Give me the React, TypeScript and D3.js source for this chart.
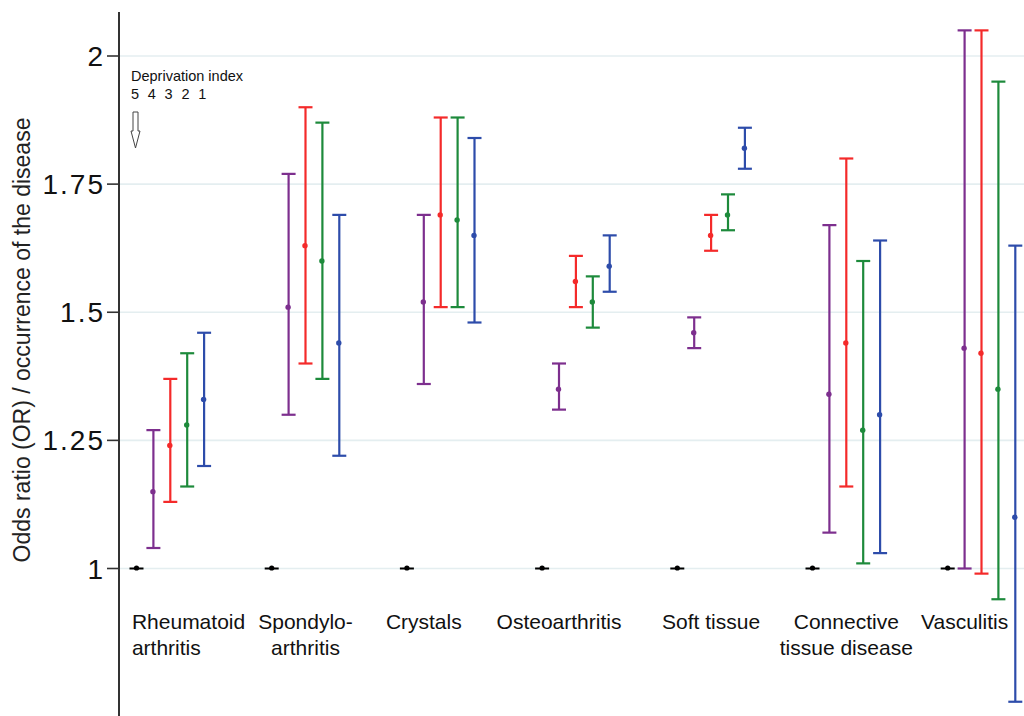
import React from 'react';
import * as d3 from 'd3';

// disease groups, label lines as printed under the axis
const categoryLines: string[][] = [
  ['Rheumatoid', 'arthritis'],
  ['Spondylo-', 'arthritis'],
  ['Crystals'],
  ['Osteoarthritis'],
  ['Soft tissue'],
  ['Connective', 'tissue disease'],
  ['Vasculitis'],
];

// deprivation quintiles drawn as error bars (1 = reference, OR = 1)
const quintiles = ['5', '4', '3', '2'];
const quintileLegend = ['5', '4', '3', '2', '1'];

const orQ5 = [1.15, 1.51, 1.52, 1.35, 1.46, 1.34, 1.43];
const lowQ5 = [1.04, 1.30, 1.36, 1.31, 1.43, 1.07, 1.00];
const highQ5 = [1.27, 1.77, 1.69, 1.40, 1.49, 1.67, 2.05];

const orQ4 = [1.24, 1.63, 1.69, 1.56, 1.65, 1.44, 1.42];
const lowQ4 = [1.13, 1.40, 1.51, 1.51, 1.62, 1.16, 0.99];
const highQ4 = [1.37, 1.90, 1.88, 1.61, 1.69, 1.80, 2.05];

const orQ3 = [1.28, 1.60, 1.68, 1.52, 1.69, 1.27, 1.35];
const lowQ3 = [1.16, 1.37, 1.51, 1.47, 1.66, 1.01, 0.94];
const highQ3 = [1.42, 1.87, 1.88, 1.57, 1.73, 1.60, 1.95];

const orQ2 = [1.33, 1.44, 1.65, 1.59, 1.82, 1.30, 1.10];
const lowQ2 = [1.20, 1.22, 1.48, 1.54, 1.78, 1.03, 0.74];
const highQ2 = [1.46, 1.69, 1.84, 1.65, 1.86, 1.64, 1.63];

const referenceOR = 1;
const yTicks = [1, 1.25, 1.5, 1.75, 2];

const seriesOR = [orQ5, orQ4, orQ3, orQ2];
const seriesLow = [lowQ5, lowQ4, lowQ3, lowQ2];
const seriesHigh = [highQ5, highQ4, highQ3, highQ2];
const colors = ['#7d2f8e', '#f42a2a', '#1d8a3b', '#2d4caa'];

const W = 1024;
const H = 716;
const axisX = 119;
const slotsPerGroup = 8;
const capHalf = 7;
const font = '"Liberation Sans", Arial, Helvetica, sans-serif';

// label placement per group: slot offset from the group's reference slot, and anchor
const labelSlot = [-0.27, 2, 1, 1, 2, 2, 1];
const labelAnchor = ['start', 'middle', 'middle', 'middle', 'middle', 'middle', 'middle'];

export default function App() {
  const y = d3.scaleLinear().domain([1, 2]).range([568.5, 56]);
  const x = d3.scaleLinear().domain([0, 52]).range([136.5, 1015.3]);
  const fmt = (d: number) => String(d);

  const groups = categoryLines.map((_, i) => i);

  return (
    <svg
      width={W}
      height={H}
      style={{ position: 'absolute', left: 0, top: 0, background: '#fff' }}
      fontFamily={font}
    >
      {/* grid */}
      {yTicks.map(t => (
        <line key={'g' + t} x1={axisX} x2={W} y1={y(t)} y2={y(t)} stroke="#e4eef0" strokeWidth={1.6} />
      ))}

      {/* y axis */}
      <line x1={axisX} x2={axisX} y1={12} y2={H} stroke="#333" strokeWidth={2} />
      {yTicks.map(t => (
        <g key={'t' + t}>
          <line x1={axisX - 12} x2={axisX} y1={y(t)} y2={y(t)} stroke="#333" strokeWidth={1.6} />
          <text x={axisX - 14} y={y(t)} dy="0.36em" textAnchor="end" fontSize={28} letterSpacing={2} fill="#111">
            {fmt(t)}
          </text>
        </g>
      ))}
      <text
        transform={`translate(30,${340}) rotate(-90)`}
        textAnchor="middle"
        fontSize={23}
        fill="#222"
      >
        Odds ratio (OR) / occurrence of the disease
      </text>

      {/* legend note */}
      <text x={131} y={81} fontSize={14.5} fill="#111">Deprivation index</text>
      {quintileLegend.map((q, i) => (
        <text key={'q' + q} x={131 + i * 16.8} y={99} fontSize={14.5} fill="#111">{q}</text>
      ))}
      <path
        d="M133,112 L138,112 L138,131 L140,131 L135.5,148 L131,131 L133,131 Z"
        fill="#fff"
        stroke="#444"
        strokeWidth={1}
      />

      {/* reference markers */}
      {groups.map(g => {
        const cx = x(g * slotsPerGroup);
        return (
          <g key={'r' + g}>
            <line x1={cx - capHalf} x2={cx + capHalf} y1={y(referenceOR)} y2={y(referenceOR)} stroke="#000" strokeWidth={2} />
            <circle cx={cx} cy={y(referenceOR) - 0.5} r={2.6} fill="#000" />
          </g>
        );
      })}

      {/* error bars */}
      {quintiles.map((q, s) =>
        groups.map(g => {
          const cx = x(g * slotsPerGroup + s + 1);
          const lo = y(seriesLow[s][g]);
          const hi = y(seriesHigh[s][g]);
          const c = colors[s];
          return (
            <g key={q + '-' + g}>
              <line x1={cx} x2={cx} y1={hi} y2={lo} stroke={c} strokeWidth={2.2} />
              <line x1={cx - capHalf} x2={cx + capHalf} y1={hi} y2={hi} stroke={c} strokeWidth={2.2} />
              <line x1={cx - capHalf} x2={cx + capHalf} y1={lo} y2={lo} stroke={c} strokeWidth={2.2} />
              <circle cx={cx - 0.5} cy={y(seriesOR[s][g])} r={2.7} fill={c} />
            </g>
          );
        })
      )}

      {/* category labels */}
      {categoryLines.map((lines, g) => {
        const lx = x(g * slotsPerGroup + labelSlot[g]);
        return (
          <text key={'c' + g} x={lx} y={629} fontSize={21} fill="#111" textAnchor={labelAnchor[g]}>
            {lines.map((ln, k) => (
              <tspan key={k} x={lx} dy={k === 0 ? 0 : 26}>{ln}</tspan>
            ))}
          </text>
        );
      })}
    </svg>
  );
}
